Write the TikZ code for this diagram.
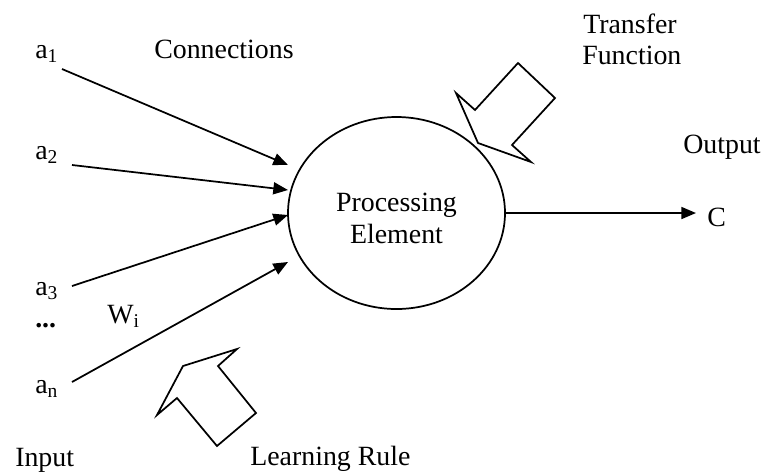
\documentclass[tikz,border=0pt]{standalone}
\usepackage{fontspec}
\setmainfont{Liberation Serif}
\usetikzlibrary{shapes.geometric,arrows.meta}
\begin{document}
\begin{tikzpicture}[x=0.75pt,y=-0.75pt,
  lbl/.style={inner sep=0pt, anchor=base west, font=\fontsize{20.9}{24}\selectfont},
  conn/.style={line width=1.3pt, -{Triangle[length=11pt,width=9pt]}},
  blockarrow/.style={line width=1.3pt, line join=miter},
  pe/.style={draw, ellipse, line width=1.3pt, minimum width=162.75pt, minimum height=144pt,
    inner sep=0pt, align=center, font=\fontsize{20.9}{24}\selectfont}]
\useasboundingbox (0,0) rectangle (763,472);

% processing element
\node[pe] (PE) at (396.5,213) {};
\node[inner sep=0pt, align=center, font=\fontsize{20.9}{24}\selectfont] (PEtext) at (396.5,218) {Processing\\Element};

% inputs
\node[lbl] (a1) at (35,58) {a\textsubscript{1}};
\node[lbl] (a2) at (35,159) {a\textsubscript{2}};
\node[lbl] (a3) at (35,295) {a\textsubscript{3}};
\node[lbl] (dots) at (35,327) {\textbf{...}};
\node[lbl] (an) at (35,393) {a\textsubscript{n}};

% other labels
\node[lbl] (conns) at (154,58) {Connections};
\node[lbl] (wi) at (107,323) {W\textsubscript{i}};
\node[lbl] (input) at (15,466) {Input};
\node[lbl] (learn) at (250,465) {Learning Rule};
\node[lbl] (transfer) at (583,33) {Transfer};
\node[lbl] (function) at (582,64) {Function};
\node[lbl] (output) at (683,153) {Output};
\node[lbl] (C) at (707,226) {C};

% connection end points
\coordinate (s1) at (62,69);   \coordinate (e1) at (288,165);
\coordinate (s2) at (72,165);  \coordinate (e2) at (288,190);
\coordinate (s3) at (72,286);  \coordinate (e3) at (288,215);
\coordinate (s4) at (72,382);  \coordinate (e4) at (288,262);
\coordinate (oe) at (696,213);

\draw[conn] (s1) -- (e1);
\draw[conn] (s2) -- (e2);
\draw[conn] (s3) -- (e3);
\draw[conn] (s4) -- (e4);
\draw[conn] (PE.east) -- (oe);

% transfer function block arrow
\draw[blockarrow] (518,63) -- (555,98) -- (512,145) -- (531,162) -- (478,143)
  -- (456,93) -- (475,110) -- cycle;

% learning rule block arrow
\draw[blockarrow] (237,349) -- (183,366) -- (157,415) -- (177,398) -- (217,446)
  -- (256,413) -- (218,366) -- cycle;
\end{tikzpicture}
\end{document}
